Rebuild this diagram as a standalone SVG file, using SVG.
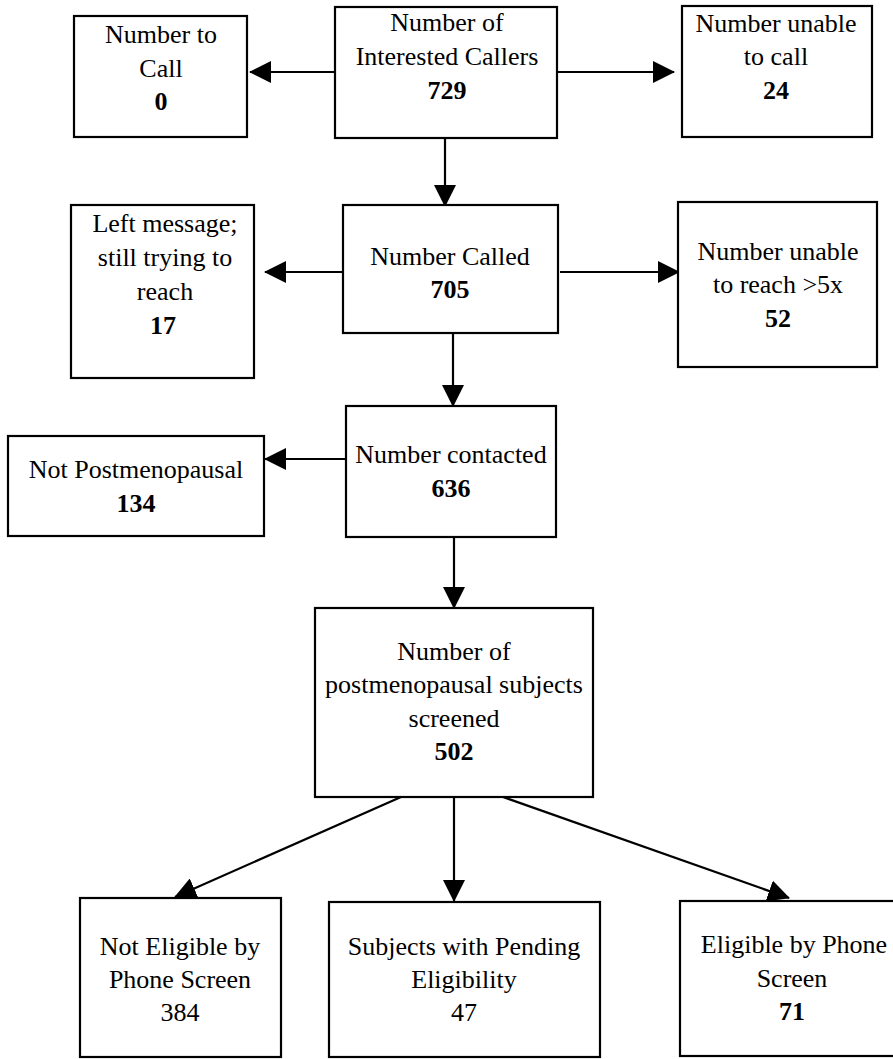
<svg xmlns="http://www.w3.org/2000/svg" width="893" height="1059" viewBox="0 0 893 1059">
<style>
.box{fill:#fff;stroke:#000;stroke-width:2.2}
.t{font-family:"Liberation Serif","Times New Roman",serif;font-size:26px;fill:#000;text-anchor:middle}
.b{font-weight:bold}
.c{stroke:#000;stroke-width:2.2;fill:none;marker-end:url(#ah)}
</style>
<defs>
<marker id="ah" markerUnits="userSpaceOnUse" markerWidth="22" markerHeight="22" refX="21" refY="11" orient="auto">
<path d="M0,0 L22,11 L0,22 z" fill="#000"/>
</marker>
</defs>
<g id="connectors">
<line class="c" x1="335" y1="72" x2="250" y2="72"/>
<line class="c" x1="557" y1="72" x2="674" y2="72"/>
<line class="c" x1="445" y1="138" x2="445" y2="206"/>
<line class="c" x1="343" y1="272" x2="265" y2="272"/>
<line class="c" x1="560" y1="272" x2="679" y2="272"/>
<line class="c" x1="453" y1="333" x2="453" y2="406"/>
<line class="c" x1="346" y1="459" x2="265" y2="459"/>
<line class="c" x1="454" y1="537" x2="454" y2="608"/>
<line class="c" x1="401" y1="797" x2="175" y2="897"/>
<line class="c" x1="454" y1="797" x2="454" y2="901"/>
<line class="c" x1="503" y1="797" x2="789" y2="898"/>
</g>
<g id="n_call">
<rect class="box" x="74" y="16" width="173" height="121"/>
<text class="t" x="161" y="43">Number to</text>
<text class="t" x="161" y="77">Call</text>
<text class="t b" x="161" y="110">0</text>
</g>
<g id="n_interested">
<rect class="box" x="335" y="7" width="222" height="131"/>
<text class="t" x="447" y="31">Number of</text>
<text class="t" x="447" y="65">Interested Callers</text>
<text class="t b" x="447" y="99">729</text>
</g>
<g id="n_unable_call">
<rect class="box" x="682" y="6" width="190" height="131"/>
<text class="t" x="776" y="32">Number unable</text>
<text class="t" x="776" y="65">to call</text>
<text class="t b" x="776" y="99">24</text>
</g>
<g id="n_left_msg">
<rect class="box" x="71" y="205" width="183" height="173"/>
<text class="t" x="165" y="232">Left message;</text>
<text class="t" x="165" y="266">still trying to</text>
<text class="t" x="165" y="300">reach</text>
<text class="t b" x="163" y="334">17</text>
</g>
<g id="n_called">
<rect class="box" x="343" y="205" width="215" height="128"/>
<text class="t" x="450" y="265">Number Called</text>
<text class="t b" x="450" y="298">705</text>
</g>
<g id="n_unable_reach">
<rect class="box" x="678" y="202" width="199" height="165"/>
<text class="t" x="778" y="260">Number unable</text>
<text class="t" x="778" y="293">to reach &gt;5x</text>
<text class="t b" x="778" y="327">52</text>
</g>
<g id="n_not_post">
<rect class="box" x="8" y="436" width="256" height="100"/>
<text class="t" x="136" y="478">Not Postmenopausal</text>
<text class="t b" x="136" y="512">134</text>
</g>
<g id="n_contacted">
<rect class="box" x="346" y="406" width="210" height="131"/>
<text class="t" x="451" y="463">Number contacted</text>
<text class="t b" x="451" y="497">636</text>
</g>
<g id="n_screened">
<rect class="box" x="315" y="608" width="278" height="189"/>
<text class="t" x="454" y="660">Number of</text>
<text class="t" x="454" y="693">postmenopausal subjects</text>
<text class="t" x="454" y="727">screened</text>
<text class="t b" x="454" y="760">502</text>
</g>
<g id="n_not_eligible">
<rect class="box" x="80" y="898" width="201" height="159"/>
<text class="t" x="180" y="955">Not Eligible by</text>
<text class="t" x="180" y="988">Phone Screen</text>
<text class="t" x="180" y="1021">384</text>
</g>
<g id="n_pending">
<rect class="box" x="329" y="902" width="271" height="155"/>
<text class="t" x="464" y="955">Subjects with Pending</text>
<text class="t" x="464" y="988">Eligibility</text>
<text class="t" x="464" y="1021">47</text>
</g>
<g id="n_eligible">
<rect class="box" x="680" y="901" width="224" height="155"/>
<text class="t" x="794" y="953">Eligible by Phone</text>
<text class="t" x="792" y="987">Screen</text>
<text class="t b" x="792" y="1020">71</text>
</g>
</svg>
